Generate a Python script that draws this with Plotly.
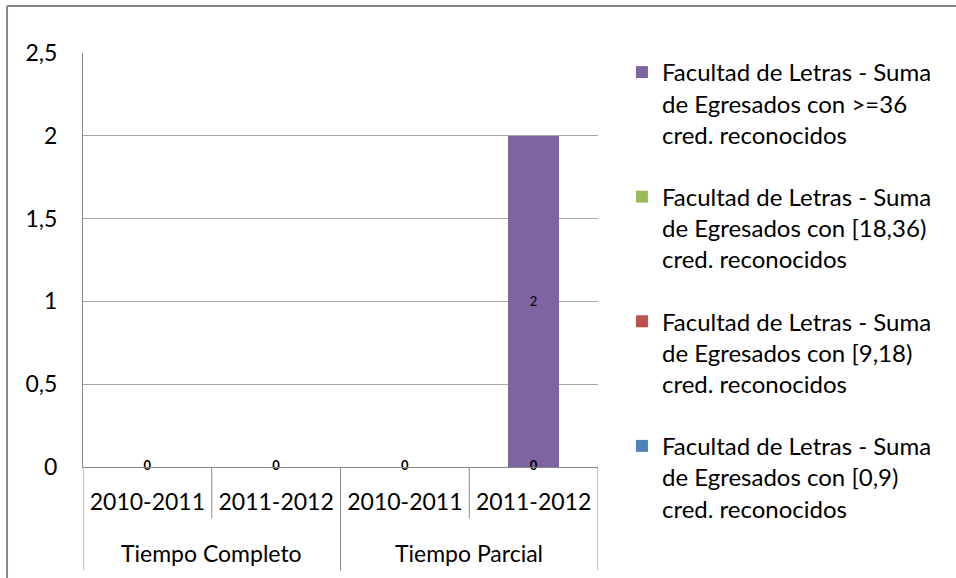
import plotly.graph_objects as go

groups = ["Tiempo Completo", "Tiempo Completo", "Tiempo Parcial", "Tiempo Parcial"]
years = ["2010-2011", "2011-2012", "2010-2011", "2011-2012"]

series_names = [
    "Facultad de Letras - Suma<br>de Egresados con [0,9)<br>cred. reconocidos",
    "Facultad de Letras - Suma<br>de Egresados con [9,18)<br>cred. reconocidos",
    "Facultad de Letras - Suma<br>de Egresados con [18,36)<br>cred. reconocidos",
    "Facultad de Letras - Suma<br>de Egresados con >=36<br>cred. reconocidos",
]
vals_0_9 = [0, 0, 0, 0]
vals_9_18 = [0, 0, 0, 0]
vals_18_36 = [0, 0, 0, 0]
vals_36 = [0, 0, 0, 2]
colors = ["#4F81BD", "#C0504D", "#9BBB59", "#8064A2"]

FONT = "Lato"
GRAY = "#888888"
idx = list(range(len(years)))

fig = go.Figure()
all_vals = [vals_0_9, vals_9_18, vals_18_36, vals_36]
n = len(all_vals)
for i, (name, vals, col) in enumerate(zip(series_names, all_vals, colors)):
    fig.add_trace(go.Bar(
        x=idx, y=vals, name=name, marker=dict(color=col, line=dict(width=0)),
        text=[str(v) if v else "" for v in vals],
        textposition="inside", insidetextanchor="middle",
        textfont=dict(family=FONT, size=13, color="#000000"),
        legendgroup=str(i), legendrank=n - i,
    ))
# zero labels of the bottom series (drawn at its centre)
fig.add_trace(go.Scatter(
    x=idx, y=[v / 2 for v in vals_0_9], mode="text",
    text=["<b>%d</b>" % v for v in vals_0_9],
    textfont=dict(family=FONT, size=13, color="#000000"),
    showlegend=False, hoverinfo="skip", cliponaxis=False,
))

# category boundaries / group dividers / group labels
shapes = []
annotations = []
bounds = [-0.5] + [i + 0.5 for i in idx]
for b in bounds:
    left = int(b - 0.5) if b - 0.5 >= 0 else None
    right = int(b + 0.5) if b + 0.5 <= idx[-1] else None
    is_group_edge = left is None or right is None or groups[left] != groups[right]
    shapes.append(dict(
        type="line", xref="x", yref="paper", x0=b, x1=b,
        y0=0, y1=-0.25 if is_group_edge else -0.124,
        line=dict(color=GRAY, width=1),
    ))
seen = []
for g in groups:
    if g not in seen:
        seen.append(g)
for g in seen:
    members = [i for i, gg in enumerate(groups) if gg == g]
    annotations.append(dict(
        text=g, xref="x", yref="paper", x=sum(members) / len(members), y=-0.207,
        xanchor="center", yanchor="middle", showarrow=False,
        font=dict(family=FONT, size=23, color="#000000"),
    ))
# outer chart border (top and left edges only are visible)
shapes.append(dict(
    type="line", xref="paper", yref="paper",
    x0=-0.1475, x1=1.8, y0=1.1135, y1=1.1135,
    line=dict(color=GRAY, width=2), layer="below",
))
shapes.append(dict(
    type="line", xref="paper", yref="paper",
    x0=-0.1475, x1=-0.1475, y0=-0.4, y1=1.1135,
    line=dict(color=GRAY, width=2), layer="below",
))

fig.update_layout(
    width=956, height=578,
    barmode="stack", bargap=0.6,
    separators=",.",
    paper_bgcolor="white", plot_bgcolor="white",
    margin=dict(l=83, r=358, t=53, b=111, autoexpand=False),
    font=dict(family=FONT, size=23, color="#000000"),
    showlegend=True,
    legend=dict(
        x=1.0465, xanchor="left",
        yref="container", y=0.9135, yanchor="top",
        maxheight=570,
        traceorder="grouped", tracegroupgap=28,
        valign="top", font=dict(family=FONT, size=24, color="#000000"),
        itemwidth=30,
    ),
    xaxis=dict(
        range=[-0.5, idx[-1] + 0.5], tickvals=idx, ticktext=years,
        showline=True, linecolor=GRAY, linewidth=1,
        showgrid=False, zeroline=False, ticks="", ticklabelstandoff=14,
        tickfont=dict(family=FONT, size=23, color="#000000"),
        automargin=False,
    ),
    yaxis=dict(
        range=[0, 2.5], dtick=0.5,
        showgrid=True, gridcolor="#A6A6A6", gridwidth=1,
        showline=True, linecolor=GRAY, linewidth=1,
        zeroline=False, ticks="", ticklabelstandoff=20,
        tickfont=dict(family=FONT, size=23, color="#000000"),
        automargin=False,
    ),
    shapes=shapes,
    annotations=annotations,
)

fig.write_html("out.html", config={"displayModeBar": False},
               post_script="document.body.style.margin='0';document.body.style.overflow='hidden';")
